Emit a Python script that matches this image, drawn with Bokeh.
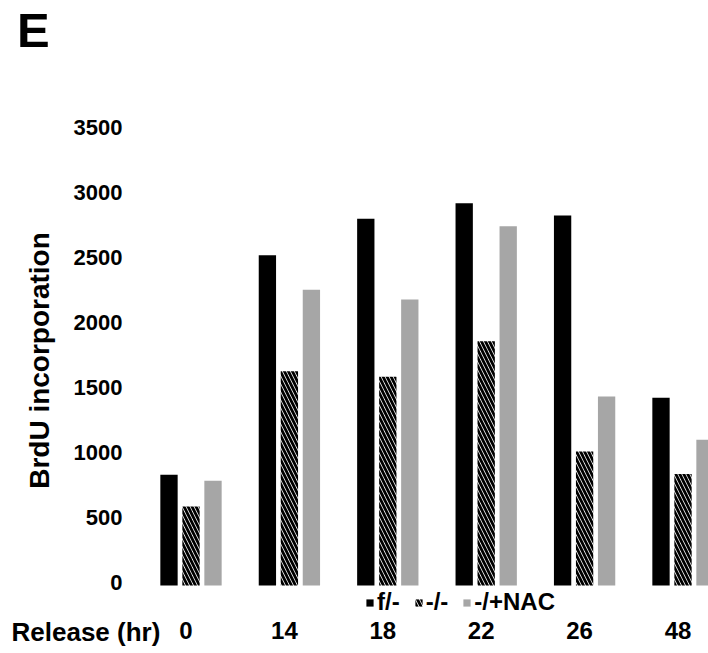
import math
from bokeh.plotting import figure
from bokeh.models import ColumnDataSource, Legend, LegendItem, Range1d
from bokeh.core.properties import value
from bokeh.embed import file_html
from bokeh.resources import INLINE

hours = ["0", "14", "18", "22", "26", "48"]
f_het = [851, 2541, 2821, 2941, 2846, 1444]
ko = [608, 1648, 1605, 1879, 1030, 857]
ko_nac = [805, 2275, 2200, 2764, 1454, 1121]
y_ticks = [0, 500, 1000, 1500, 2000, 2500, 3000, 3500]

FONT = value("Liberation Sans")
W, H = 708, 653
# pixel geometry of the frame (whole canvas)
X0, XPX = 190.5, 98.4          # px of category 0, px per category
Y0, YPX = 585.0, 455.0 / 3500  # px of value 0, px per unit


def dx(px):
    return (px - X0) / XPX


def dy(py):
    return (Y0 - py) / YPX


idx = list(range(len(hours)))
step = 0.2236
bw = 0.176

src = ColumnDataSource(dict(
    x1=[i - step for i in idx], x2=idx, x3=[i + step for i in idx],
    f=f_het, k=ko, n=ko_nac))

p = figure(width=W, height=H, output_backend="svg", toolbar_location=None,
           x_range=Range1d(dx(0), dx(W)), y_range=Range1d(dy(H), dy(0)),
           x_axis_location=None, y_axis_location=None,
           min_border=0)
p.outline_line_color = None
p.grid.visible = False
p.background_fill_color = "white"
p.border_fill_color = "white"

r1 = p.vbar(x="x1", top="f", width=bw, source=src, fill_color="black", line_color=None)
r2 = p.vbar(x="x2", top="k", width=bw, source=src, fill_color="white", line_color=None,
            hatch_pattern="\\", hatch_color="black", hatch_scale=8, hatch_weight=2.8)
r3 = p.vbar(x="x3", top="n", width=bw, source=src, fill_color="#a6a6a6", line_color=None)

# y tick labels
p.text(x=[dx(122)] * len(y_ticks), y=y_ticks, text=[str(t) for t in y_ticks],
       y_offset=-3,
       text_font=FONT, text_font_style="bold", text_font_size="22px",
       text_color="black", text_align="right", text_baseline="middle")
# y axis title
p.text(x=[dx(39)], y=[dy(360)], text=["BrdU incorporation"], angle=math.pi / 2,
       text_font=FONT, text_font_style="bold", text_font_size="28px",
       text_color="black", text_align="center", text_baseline="middle")
# x tick labels
p.text(x=idx, y=[dy(630)] * len(idx), text=hours, x_offset=-5,
       text_font=FONT, text_font_style="bold", text_font_size="24px",
       text_color="black", text_align="center", text_baseline="middle")
# x axis title
p.text(x=[dx(11)], y=[dy(631)], text=["Release (hr)"],
       text_font=FONT, text_font_style="bold", text_font_size="26px",
       text_color="black", text_align="left", text_baseline="middle")
# panel letter
p.text(x=[dx(16.5)], y=[dy(29.5)], text=["E"],
       text_font=FONT, text_font_style="bold", text_font_size="49px",
       text_color="black", text_align="left", text_baseline="middle")

legend = Legend(items=[LegendItem(label="f/-", renderers=[r1]),
                       LegendItem(label="-/-", renderers=[r2]),
                       LegendItem(label="-/+NAC", renderers=[r3])],
                orientation="horizontal", location=(365, 37),
                glyph_width=9, glyph_height=9, label_standoff=3, spacing=14,
                padding=0, margin=0, border_line_color=None,
                background_fill_alpha=0,
                label_text_font="Liberation Sans", label_text_font_style="bold",
                label_text_font_size="24px", label_text_color="black")
p.add_layout(legend, "center")

open("out.html", "w").write(file_html(p, INLINE))
